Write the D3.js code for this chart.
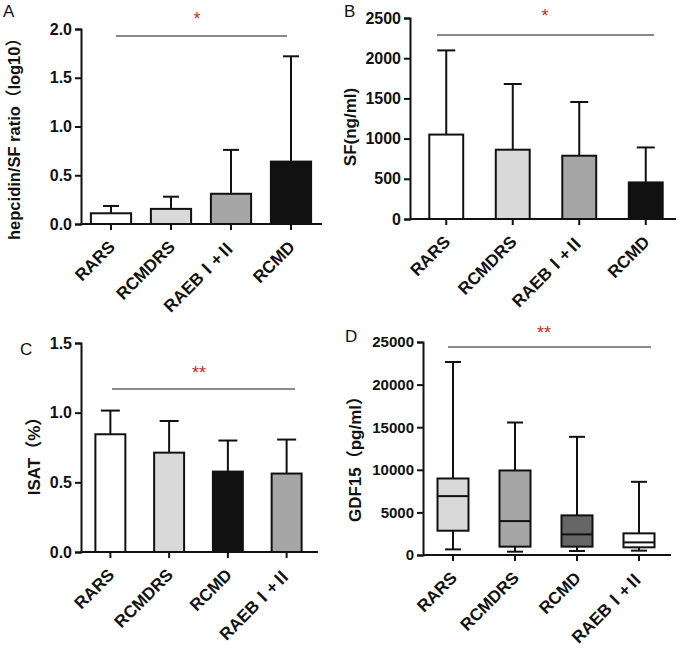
<!DOCTYPE html>
<html><head><meta charset="utf-8">
<script src="https://cdn.jsdelivr.net/npm/d3@7"></script>
<style>
body{margin:0;background:#fff;}
svg{display:block;font-family:"Liberation Sans",Arial,"Noto Sans CJK SC",sans-serif;}
</style></head>
<body><svg id="c" width="684" height="655"></svg>
<script>
// ---- data ----
const catsA = ["RARS","RCMDRS","RAEBⅠ+Ⅱ","RCMD"];
const meanA = [0.11,0.155,0.31,0.64];
const errA  = [0.185,0.28,0.76,1.72];
const fillA = ["#ffffff","#d9d9d9","#a6a6a6","#111111"];
const ticksA = [0,0.5,1.0,1.5,2.0];

const catsB = ["RARS","RCMDRS","RAEBⅠ+Ⅱ","RCMD"];
const meanB = [1050,862,787,455];
const errB  = [2097,1679,1455,890];
const fillB = ["#ffffff","#d9d9d9","#a6a6a6","#111111"];
const ticksB = [0,500,1000,1500,2000,2500];

const catsC = ["RARS","RCMDRS","RCMD","RAEBⅠ+Ⅱ"];
const meanC = [0.845,0.713,0.577,0.563];
const errC  = [1.015,0.94,0.80,0.807];
const fillC = ["#ffffff","#d9d9d9","#111111","#a6a6a6"];
const ticksC = [0,0.5,1.0,1.5];

const catsD = ["RARS","RCMDRS","RCMD","RAEBⅠ+Ⅱ"];
const minD  = [660,390,470,510];
const q1D   = [2850,980,980,900];
const medD  = [6910,3980,2420,1480];
const q3D   = [8980,9920,4650,2540];
const maxD  = [22650,15550,13870,8590];
const fillD = ["#d9d9d9","#a6a6a6","#666666","#ffffff"];
const ticksD = [0,5000,10000,15000,20000,25000];

const svg = d3.select("#c");

function panel(o){
  const g = svg.append("g");
  const x = d3.scaleBand().domain(o.cats).range(o.xr).padding(0);
  const y = d3.scaleLinear().domain(o.yd).range(o.yr);
  const yAx = g.append("g").attr("transform",`translate(${o.ax},0)`)
    .call(d3.axisLeft(y).tickValues(o.ticks).tickFormat(o.fmt).tickSizeOuter(0).tickSize(6).tickPadding(3));
  yAx.select(".domain").attr("stroke-width",2).attr("stroke","#111");
  yAx.selectAll(".tick line").attr("stroke-width",2).attr("stroke","#111");
  yAx.selectAll(".tick text").attr("font-size",o.tfs).attr("font-weight","bold").attr("fill","#111")
    .attr("font-family","Liberation Sans, Arial, sans-serif");
  // x axis
  const y0 = o.yr[0];
  g.append("line").attr("x1",o.ax).attr("x2",o.axEnd).attr("y1",y0).attr("y2",y0)
    .attr("stroke","#111").attr("stroke-width",2);
  o.cats.forEach(c=>{
    const cx = x(c)+x.bandwidth()/2;
    g.append("line").attr("x1",cx).attr("x2",cx).attr("y1",y0).attr("y2",y0+6).attr("stroke","#111").attr("stroke-width",2);
    g.append("text").attr("transform",`translate(${cx+5},${y0+24}) rotate(-45)`)
      .attr("text-anchor","end").attr("font-size",17).attr("font-weight","bold").attr("fill","#111").text(c);
  });
  const bw = x.bandwidth()*o.bf;
  if(o.type==="bar"){
    o.cats.forEach((c,i)=>{
      const cx = x(c)+x.bandwidth()/2;
      g.append("line").attr("x1",cx).attr("x2",cx).attr("y1",y(o.mean[i])).attr("y2",y(o.err[i])).attr("stroke","#111").attr("stroke-width",2);
      g.append("line").attr("x1",cx-o.cap/2).attr("x2",cx+o.cap/2).attr("y1",y(o.err[i])).attr("y2",y(o.err[i])).attr("stroke","#111").attr("stroke-width",2);
      g.append("rect").attr("x",cx-bw/2).attr("width",bw).attr("y",y(o.mean[i])).attr("height",y0-y(o.mean[i]))
        .attr("fill",o.fill[i]).attr("stroke","#111").attr("stroke-width",2);
    });
  } else {
    o.cats.forEach((c,i)=>{
      const cx = x(c)+x.bandwidth()/2;
      g.append("line").attr("x1",cx).attr("x2",cx).attr("y1",y(o.min[i])).attr("y2",y(o.max[i])).attr("stroke","#111").attr("stroke-width",2);
      [o.min[i],o.max[i]].forEach(v=>g.append("line").attr("x1",cx-o.cap/2).attr("x2",cx+o.cap/2).attr("y1",y(v)).attr("y2",y(v)).attr("stroke","#111").attr("stroke-width",2));
      g.append("rect").attr("x",cx-bw/2).attr("width",bw).attr("y",y(o.q3[i])).attr("height",y(o.q1[i])-y(o.q3[i]))
        .attr("fill",o.fill[i]).attr("stroke","#111").attr("stroke-width",2);
      g.append("line").attr("x1",cx-bw/2).attr("x2",cx+bw/2).attr("y1",y(o.med[i])).attr("y2",y(o.med[i])).attr("stroke","#111").attr("stroke-width",2);
    });
  }
  // significance
  g.append("line").attr("x1",o.sig[0]).attr("x2",o.sig[1]).attr("y1",o.sig[2]).attr("y2",o.sig[2])
    .attr("stroke",o.sigc).attr("stroke-width",o.sigw);
  g.append("text").attr("x",o.star[0]).attr("y",o.star[1]).attr("text-anchor","middle").attr("font-size",18)
    .attr("fill","#c0302a").text(o.stars);
  // y title
  g.append("text").attr("transform",`translate(${o.yt[0]},${o.yt[1]}) rotate(-90)`).attr("text-anchor","middle")
    .attr("dy","0.35em").attr("font-size",o.ytfs).attr("font-weight","bold").attr("fill","#111").text(o.title);
  // panel letter
  g.append("text").attr("x",o.lab[0]).attr("y",o.lab[1]).attr("font-size",17).attr("fill","#111").text(o.letter);
}

panel({type:"bar",cats:catsA,mean:meanA,err:errA,fill:fillA,ticks:ticksA,fmt:d3.format(".1f"),
  xr:[81,321],ax:81,axEnd:322,yd:[0,2],yr:[224,29],bf:0.67,cap:16,tfs:16,
  sig:[116,287,36],sigc:"#111",sigw:1,star:[197,25],stars:"*",
  yt:[14,135],ytfs:16.5,title:"hepcidin/SF ratio（log10）",lab:[3,17],letter:"A"});

panel({type:"bar",cats:catsB,mean:meanB,err:errB,fill:fillB,ticks:ticksB,fmt:d3.format("d"),
  xr:[413,679],ax:410,axEnd:676,yd:[0,2500],yr:[219,18],bf:0.51,cap:18,tfs:16,
  sig:[437,654,35],sigc:"#111",sigw:1,star:[545,22],stars:"*",
  yt:[350,127],ytfs:17,title:"SF(ng/ml)",lab:[344,17],letter:"B"});

panel({type:"bar",cats:catsC,mean:meanC,err:errC,fill:fillC,ticks:ticksC,fmt:d3.format(".1f"),
  xr:[81,316],ax:81,axEnd:318,yd:[0,1.5],yr:[552,343],bf:0.51,cap:19,tfs:16,
  sig:[112,295,389],sigc:"#666",sigw:1.3,star:[199,379],stars:"**",
  yt:[34,452],ytfs:17,title:"ISAT（%）",lab:[20,355],letter:"C"});

panel({type:"box",cats:catsD,min:minD,q1:q1D,med:medD,q3:q3D,max:maxD,fill:fillD,ticks:ticksD,fmt:d3.format("d"),
  xr:[422,670],ax:423,axEnd:671,yd:[0,25000],yr:[555,342],bf:0.5,cap:16,tfs:15,
  sig:[448,651,347],sigc:"#666",sigw:1.3,star:[544,339],stars:"**",
  yt:[355,455],ytfs:17,title:"GDF15（pg/ml）",lab:[345,342],letter:"D"});
</script></body></html>
